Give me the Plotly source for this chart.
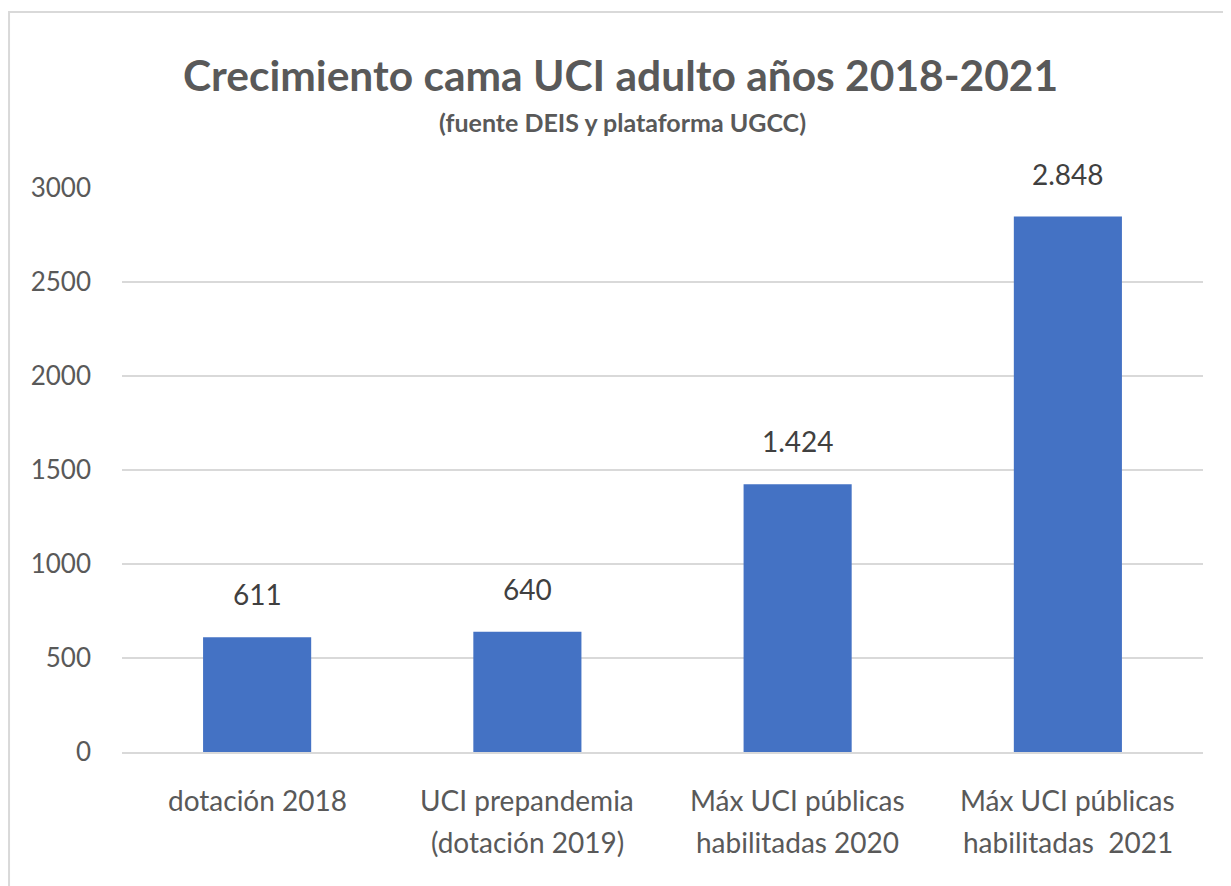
import plotly.graph_objects as go

categories = ["dotación 2018", "UCI prepandemia<br>(dotación 2019)",
              "Máx UCI públicas<br>habilitadas 2020", "Máx UCI públicas<br>habilitadas  2021"]
values = [611, 640, 1424, 2848]
y_ticks = [0, 500, 1000, 1500, 2000, 2500, 3000]
title_text = "Crecimiento cama UCI adulto años 2018-2021"
subtitle_text = "(fuente DEIS y plataforma UGCC)"

BAR = "#4472C4"
GRAY = "#595959"
FONT = "Lato, Calibri, sans-serif"

def fmt(v):
    return f"{v:,}".replace(",", ".")

fig = go.Figure()
fig.add_trace(go.Bar(x=categories, y=values, marker=dict(color=BAR, line=dict(width=0)),
                     width=0.4, hoverinfo="x+y"))

ann = []
for c, v in zip(categories, values):
    ann.append(dict(x=c, y=v, xref="x", yref="y", text=fmt(v), showarrow=False,
                    yanchor="bottom", yshift=24,
                    font=dict(family=FONT, size=28, color="#404040")))
    for i, line in enumerate(c.split("<br>")):
        ann.append(dict(x=c, y=0, xref="x", yref="paper", text=line.replace("  ", "&nbsp; "),
                        showarrow=False, yanchor="middle", yshift=-48 - 42 * i,
                        font=dict(family=FONT, size=28, color=GRAY)))
ann.append(dict(x=0.461, y=1.2004, xref="paper", yref="paper", text="<b>" + title_text + "</b>",
                showarrow=False, yanchor="middle", xanchor="center",
                font=dict(family=FONT, size=42.5, color=GRAY)))
ann.append(dict(x=0.463, y=1.117, xref="paper", yref="paper", text="<b>" + subtitle_text + "</b>",
                showarrow=False, yanchor="middle", xanchor="center",
                font=dict(family=FONT, size=25, color=GRAY)))

fig.update_layout(
    width=1231, height=886,
    margin=dict(l=114, r=36, t=180, b=142),
    paper_bgcolor="white", plot_bgcolor="white",
    showlegend=False,
    annotations=ann,
    bargap=0.6,
    shapes=[dict(type="rect", xref="paper", yref="paper", x0=-0.1045, x1=1.2,
                 y0=-0.6, y1=1.312, line=dict(color="#d9d9d9", width=2), layer="below")],
    xaxis=dict(showticklabels=False, showline=True, linecolor="#d9d9d9", linewidth=2,
               showgrid=False, ticks=""),
    yaxis=dict(range=[0, 3000], tickvals=y_ticks, showgrid=True, gridcolor="#d9d9d9",
               gridwidth=2, zeroline=False, showline=False, ticks="",
               ticklabelstandoff=30,
               tickfont=dict(family=FONT, size=26, color=GRAY)),
)

fig.write_html("out.html")
